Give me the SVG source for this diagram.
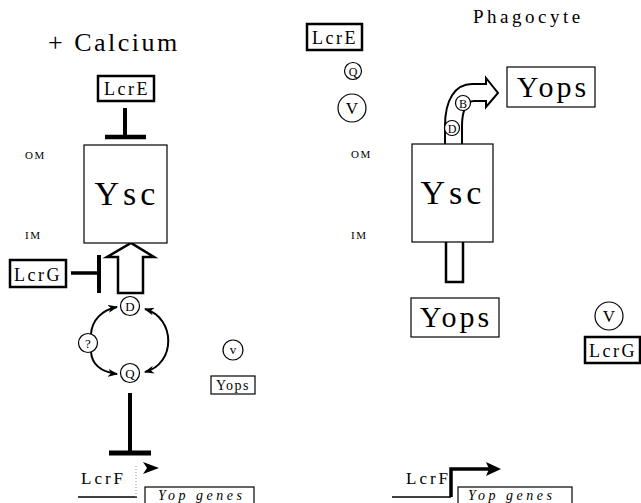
<svg xmlns="http://www.w3.org/2000/svg" width="641" height="503" viewBox="0 0 641 503" font-family="'Liberation Serif', 'DejaVu Serif', 'Times New Roman', serif">
<style>
text{font-family:'Liberation Serif','DejaVu Serif','Times New Roman',serif;fill:#000}
.box{fill:#fff;stroke:#000;stroke-width:1.2}
.tbox{fill:#fff;stroke:#000;stroke-width:2.5}
.circ{fill:#fff;stroke:#000;stroke-width:1.2}
.bar{stroke:#000;fill:none}
.mem{font-size:11px;letter-spacing:1.5px}
.big{font-size:34px;letter-spacing:4px;text-anchor:middle}
.yops{font-size:30px;letter-spacing:3px;text-anchor:middle}
.lab{font-size:18px;letter-spacing:2.5px;text-anchor:middle}
.sm{font-size:13px;text-anchor:middle}
.xs{font-size:12px;text-anchor:middle}
.vv{font-size:17px;text-anchor:middle}
.gene{font-size:14px;font-style:italic;letter-spacing:3.5px}
</style>
<defs>
<marker id="ah" viewBox="0 0 10 8" refX="9" refY="4" markerWidth="10" markerHeight="8" markerUnits="userSpaceOnUse" orient="auto-start-reverse">
<path d="M0,0 L10,4 L0,8 L3,4 z" fill="#000"/>
</marker>
</defs>
<rect width="641" height="503" fill="#fff"/>

<text x="48" y="51" font-size="26" letter-spacing="2.5">+ Calcium</text>
<text x="473" y="23" font-size="19" letter-spacing="3.5">Phagocyte</text>
<text class="mem" x="25" y="159">OM</text>
<text class="mem" x="25" y="239">IM</text>
<text class="mem" x="351" y="158">OM</text>
<text class="mem" x="351" y="239">IM</text>

<g id="connectors">
<line class="bar" x1="125" y1="108" x2="125" y2="137" stroke-width="4"/>
<line class="bar" x1="105" y1="137" x2="146" y2="137" stroke-width="4.5"/>
<polygon points="118,293 118,257 107,257 131,243 154,257 143,257 143,293" fill="#fff" stroke="#000" stroke-width="2.5" stroke-linejoin="miter"/>
<line class="bar" x1="71" y1="273" x2="99" y2="273" stroke-width="3.5"/>
<line class="bar" x1="99" y1="255" x2="99" y2="293" stroke-width="4"/>
<path class="bar" d="M91,334 C92,320 102,310 117,307" stroke-width="2" marker-end="url(#ah)"/>
<path class="bar" d="M91,352 C92,365 102,372 117,374" stroke-width="2" marker-end="url(#ah)"/>
<path class="bar" d="M145,309 C176,318 176,364 145,372" stroke-width="2" marker-start="url(#ah)" marker-end="url(#ah)"/>
<line class="bar" x1="130" y1="393" x2="130" y2="453" stroke-width="4"/>
<line class="bar" x1="109" y1="453" x2="151" y2="453" stroke-width="5"/>
<line class="bar" x1="78" y1="497" x2="137" y2="497" stroke-width="1.5"/>
<line x1="136" y1="466" x2="136" y2="497" stroke="#999" stroke-width="1" stroke-dasharray="1,2"/>
<polygon points="143,462 159,468 143,474 147,468" fill="#000"/>
<path d="M446,242 V282 H463 V242" fill="#fff" stroke="#000" stroke-width="2.5"/>
<path d="M445,144 V126 C445,100 455,84 472,84 H486 V78 L498,93 L486,107 V101 H474 C467,101 462,110 462,126 V144" fill="#fff" stroke="#000" stroke-width="2" stroke-linejoin="miter"/>
<line class="bar" x1="392" y1="497" x2="451" y2="497" stroke-width="1.5"/>
<path class="bar" d="M451,497 V469 H489" stroke-width="3.5"/>
<polygon points="486,462 501,469 486,476 489,469" fill="#000"/>
</g>

<g id="lcre-left"><rect class="tbox" x="98" y="76" width="56" height="25"/><text class="lab" x="127" y="95">LcrE</text></g>
<g id="ysc-left"><rect class="box" x="84" y="145" width="83" height="98"/><text class="big" x="127" y="205">Ysc</text></g>
<g id="lcrg-left"><rect class="tbox" x="10" y="260" width="56" height="27"/><text class="lab" x="38" y="281">LcrG</text></g>
<g id="d-left"><circle class="circ" cx="130" cy="306" r="9.5"/><text class="sm" x="130" y="310.5">D</text></g>
<g id="q-left"><circle class="circ" cx="130" cy="373" r="9.5"/><text class="sm" x="130" y="377.5">Q</text></g>
<g id="unknown"><circle class="circ" cx="88" cy="343" r="9.5"/><text class="sm" x="88" y="347.5">?</text></g>
<g id="v-left"><circle class="circ" cx="233" cy="350" r="10"/><text class="sm" x="233" y="354">v</text></g>
<g id="yops-left"><rect class="box" x="211" y="376" width="44" height="18"/><text x="233" y="390" font-size="14" letter-spacing="1.5" text-anchor="middle">Yops</text></g>
<g id="lcrf-left"><text x="81" y="484" font-size="17" letter-spacing="3">LcrF</text></g>
<g id="genes-left"><rect class="box" x="145" y="487" width="109" height="22"/><text class="gene" x="158" y="500">Yop genes</text></g>

<g id="lcre-right"><rect class="tbox" x="307" y="24" width="55" height="26"/><text class="lab" x="335" y="44">LcrE</text></g>
<g id="q-right"><circle class="circ" cx="353" cy="71" r="8.5"/><text class="xs" x="353" y="75.5">Q</text></g>
<g id="v-right-top"><circle class="circ" cx="352" cy="108" r="14"/><text class="vv" x="352" y="114">V</text></g>
<g id="ysc-right"><rect class="box" x="412" y="144" width="81" height="98"/><text class="big" x="453" y="204">Ysc</text></g>
<g id="b-right"><circle class="circ" cx="463" cy="103" r="7.5"/><text class="xs" x="463" y="107.5">B</text></g>
<g id="d-right"><circle class="circ" cx="452" cy="128" r="7.5"/><text class="xs" x="452" y="132.5">D</text></g>
<g id="yops-top"><rect class="box" x="507" y="67" width="88" height="40"/><text class="yops" x="553" y="97">Yops</text></g>
<g id="yops-bottom"><rect class="box" x="411" y="298" width="88" height="39"/><text class="yops" x="456" y="327">Yops</text></g>
<g id="v-right"><circle class="circ" cx="609" cy="316" r="14"/><text class="vv" x="609" y="322">V</text></g>
<g id="lcrg-right"><rect class="tbox" x="585" y="337" width="55" height="26"/><text class="lab" x="613" y="357">LcrG</text></g>
<g id="lcrf-right"><text x="406" y="484" font-size="17" letter-spacing="3">LcrF</text></g>
<g id="genes-right"><rect class="box" x="458" y="487" width="114" height="22"/><text class="gene" x="468" y="500">Yop genes</text></g>
</svg>
